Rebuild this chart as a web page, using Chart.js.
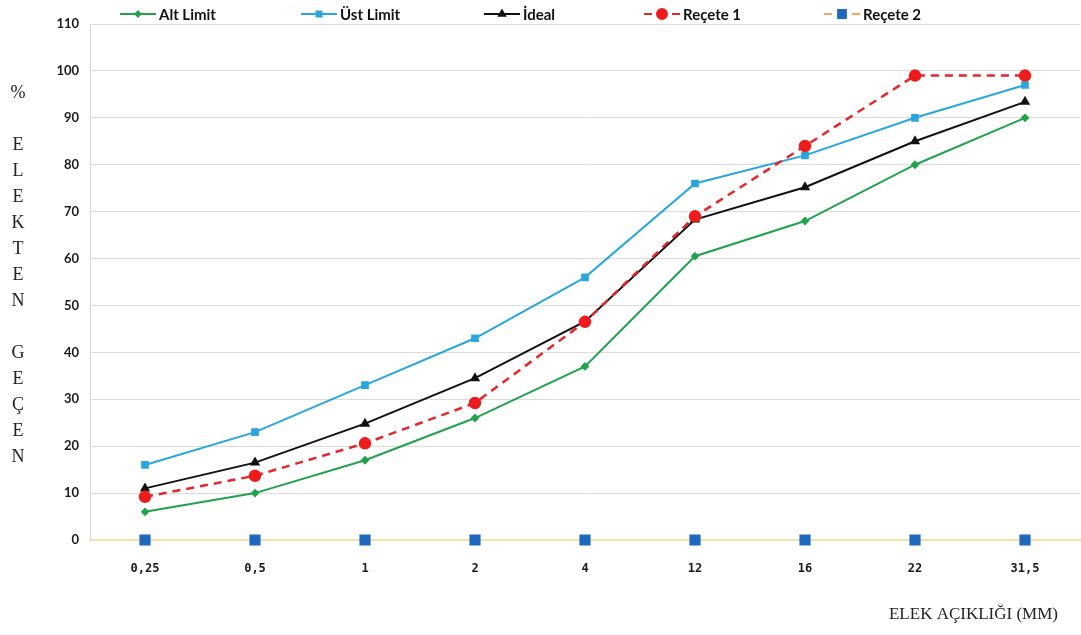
<!DOCTYPE html>
<html>
<head>
<meta charset="utf-8">
<script src="https://cdn.jsdelivr.net/npm/chart.js@4.4.1/dist/chart.umd.min.js"></script>
<style>
  html, body { margin: 0; padding: 0; background: #ffffff; }
  #wrap { width: 1081px; height: 635px; position: relative; }
</style>
</head>
<body>
<div id="wrap"><canvas id="c" width="1081" height="635"></canvas></div>
<script>
// Sieve openings (mm) and percent passing for each curve
const sieveSizes = ['0,25', '0,5', '1', '2', '4', '12', '16', '22', '31,5'];
const altLimit   = [6, 10, 17, 26, 37, 60.5, 68, 80, 90];
const ustLimit   = [16, 23, 33, 43, 56, 76, 82, 90, 97];
const ideal      = [11, 16.5, 24.8, 34.5, 46.6, 68.3, 75.2, 85, 93.4];
const recete1    = [9.2, 13.7, 20.6, 29.2, 46.5, 69, 84, 99, 99];
const recete2    = [0, 0, 0, 0, 0, 0, 0, 0, 0];

const seriesNames = ['Alt Limit', 'Üst Limit', 'İdeal', 'Reçete 1', 'Reçete 2'];
const yAxisTitle = ['%', '', 'E', 'L', 'E', 'K', 'T', 'E', 'N', '', 'G', 'E', 'Ç', 'E', 'N'];
const xAxisTitle = 'ELEK AÇIKLIĞI (MM)';

// Legend drawn as a single row across the top
const topLegend = {
  id: 'topLegend',
  afterDraw(chart) {
    const ctx = chart.ctx;
    const starts = [120, 301, 484, 644, 824];
    const y = 14;
    ctx.save();
    chart.data.datasets.forEach((ds, i) => {
      const x0 = starts[i];
      const lineLen = 36;
      ctx.strokeStyle = ds.legendLineColor || ds.borderColor;
      ctx.lineWidth = 2;
      ctx.beginPath();
      if (ds.borderDash && ds.borderDash.length) {
        ctx.moveTo(x0, y); ctx.lineTo(x0 + 8, y);
        ctx.moveTo(x0 + lineLen - 8, y); ctx.lineTo(x0 + lineLen, y);
      } else {
        ctx.moveTo(x0, y); ctx.lineTo(x0 + lineLen, y);
      }
      ctx.stroke();
      ctx.fillStyle = ds.pointBackgroundColor;
      ctx.strokeStyle = ds.pointBorderColor || ds.pointBackgroundColor;
      Chart.helpers.drawPoint(ctx, {
        pointStyle: ds.pointStyle,
        radius: ds.legendPointRadius,
        borderWidth: 1
      }, x0 + lineLen / 2, y);
      ctx.fillStyle = '#111111';
      ctx.font = 'bold 15px Lato';
      ctx.textBaseline = 'middle';
      ctx.textAlign = 'left';
      ctx.fillText(seriesNames[i], x0 + lineLen + 3, y + 1);
    });
    ctx.restore();
  }
};

// Vertical stacked y-axis title and bottom-right x-axis title
const axisTitles = {
  id: 'axisTitles',
  afterDraw(chart) {
    const ctx = chart.ctx;
    ctx.save();
    ctx.fillStyle = '#222222';
    ctx.font = '18px "Liberation Serif"';
    ctx.textAlign = 'center';
    ctx.textBaseline = 'middle';
    let y = 93;
    yAxisTitle.forEach((ch, i) => {
      if (i === 1) { y = 145; return; }
      if (i > 1) {
        if (ch !== '') ctx.fillText(ch, 18, y);
        y += 26;
      } else {
        ctx.fillText(ch, 18, y);
      }
    });
    ctx.textAlign = 'right';
    ctx.font = '17px "Liberation Serif"';
    ctx.fillText(xAxisTitle, 1058, 615);
    ctx.restore();
  }
};

new Chart(document.getElementById('c'), {
  type: 'line',
  data: {
    labels: sieveSizes,
    datasets: [
      {
        label: seriesNames[0], data: altLimit,
        borderColor: '#23a24d', backgroundColor: '#23a24d',
        pointBackgroundColor: '#23a24d', pointBorderColor: '#23a24d',
        pointStyle: 'rectRot', pointRadius: 3, legendPointRadius: 2.5,
        borderWidth: 2, tension: 0, order: 5, clip: 12
      },
      {
        label: seriesNames[1], data: ustLimit,
        borderColor: '#2aa6df', backgroundColor: '#2aa6df',
        pointBackgroundColor: '#2aa6df', pointBorderColor: '#2aa6df',
        pointStyle: 'rect', pointRadius: 4, legendPointRadius: 3.5,
        borderWidth: 2, tension: 0, order: 4, clip: 12
      },
      {
        label: seriesNames[2], data: ideal,
        borderColor: '#111111', backgroundColor: '#111111',
        pointBackgroundColor: '#111111', pointBorderColor: '#111111',
        pointStyle: 'triangle', pointRadius: 4, legendPointRadius: 3.5,
        borderWidth: 2, tension: 0, order: 3, clip: 12
      },
      {
        label: seriesNames[3], data: recete1,
        borderColor: '#e5262b', backgroundColor: '#ee1c1c',
        pointBackgroundColor: '#ee1c1c', pointBorderColor: '#ee1c1c',
        pointStyle: 'circle', pointRadius: 5, legendPointRadius: 5,
        borderWidth: 2.5, borderDash: [8, 6], tension: 0, order: 1, clip: 12
      },
      {
        label: seriesNames[4], data: recete2,
        borderColor: '#f2a869', legendLineColor: '#f2a869', backgroundColor: '#1f68bf',
        pointBackgroundColor: '#1f68bf', pointBorderColor: '#1f68bf',
        pointStyle: 'rect', pointRadius: 6.5, legendPointRadius: 5.5,
        borderWidth: 2, borderDash: [6, 6], showLine: false, tension: 0, order: 0, clip: 12
      }
    ]
  },
  options: {
    responsive: false,
    animation: false,
    layout: { autoPadding: false, padding: { top: 24, right: 1, left: 0, bottom: 0 } },
    plugins: {
      legend: { display: false },
      tooltip: { enabled: false },
      title: { display: false }
    },
    scales: {
      x: {
        offset: true,
        grid: { display: false, drawTicks: false },
        border: { display: true, color: '#f5e2a6', width: 2 },
        ticks: {
          padding: 22,
          color: '#1a1a1a',
          font: { family: '"DejaVu Sans Mono"', size: 12, weight: 'bold' }
        },
        afterFit(scale) { scale.height = 95; }
      },
      y: {
        min: 0, max: 110,
        grid: {
          drawTicks: false,
          color: (c) => (c.tick && c.tick.value === 0 ? 'rgba(0,0,0,0)' : '#dcdcdc'),
          lineWidth: 1
        },
        border: { display: true, color: '#d6d6d6', width: 1 },
        ticks: {
          stepSize: 10,
          padding: 11,
          color: '#1a1a1a',
          font: { family: 'Lato', size: 13, weight: 'bold' }
        },
        afterFit(scale) { scale.width = 90; }
      }
    }
  },
  plugins: [topLegend, axisTitles]
});
</script>
</body>
</html>
